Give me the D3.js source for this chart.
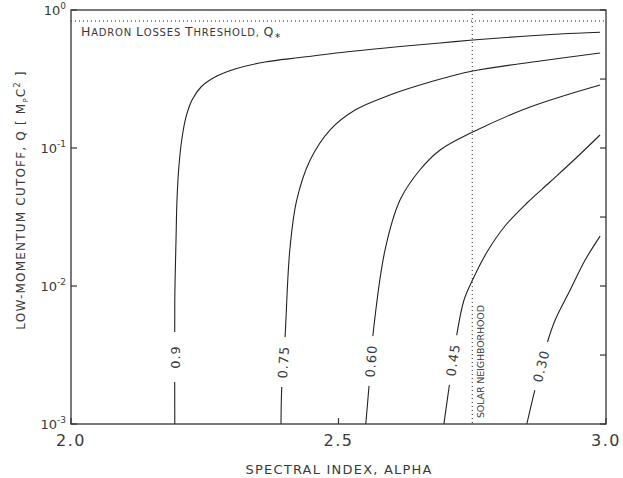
<!DOCTYPE html>
<html><head><meta charset="utf-8">
<script src="https://cdn.jsdelivr.net/npm/d3@7"></script>
<style>
html,body{margin:0;padding:0;background:#fff;}
svg{display:block;}
text{font-family:"DejaVu Sans","Liberation Sans",sans-serif;fill:#3a3a3a;}
</style></head>
<body>
<svg id="chart" width="623" height="478"></svg>
<script>
// ---- data ----
const xDomain = [2.0, 3.0];
const yDomain = [1e-3, 1];
const xTicks = [2.0, 2.5, 3.0];
const xTickLabels = ["2.0", "2.5", "3.0"];
const yTicks = [1e-3, 1e-2, 1e-1, 1];
const yTickExponents = ["-3", "-2", "-1", "0"];
const yMinorTicksRight = [0.00316, 0.0316, 0.316];

const contourNames = ["0.9", "0.75", "0.60", "0.45", "0.30"];
const c090 = [[2.194,0.0010],[2.194,0.00792],[2.1963,0.02153],[2.1981,0.0420],[2.2019,0.0753],[2.2075,0.1181],[2.2150,0.1678],[2.2262,0.2228],[2.2430,0.2767],[2.2692,0.3268],[2.3065,0.3735],[2.3626,0.4198],[2.4280,0.4526],[2.5215,0.5003],[2.6150,0.5438],[2.6897,0.5765],[2.7514,0.6063],[2.8393,0.6427],[2.9140,0.6698],[2.9888,0.6893]];
const c075 = [[2.3925,0.0010],[2.394,0.001884],[2.400,0.004198],[2.409,0.01824],[2.422,0.0420],[2.447,0.0818],[2.484,0.1349],[2.531,0.1884],[2.596,0.2421],[2.671,0.3006],[2.751,0.3614],[2.877,0.4266],[2.989,0.4875]];
const c060 = [[2.551,0.0010],[2.557,0.001884],[2.564,0.004266],[2.587,0.01824],[2.615,0.0420],[2.652,0.0693],[2.690,0.0968],[2.751,0.1306],[2.858,0.1982],[2.989,0.2864]];
const c045 = [[2.697,0.0010],[2.707,0.001884],[2.721,0.004416],[2.7346,0.00792],[2.7514,0.01124],[2.7776,0.01762],[2.8112,0.02721],[2.8523,0.03994],[2.8953,0.05671],[2.9421,0.08323],[2.9888,0.1242]];
const c030 = [[2.852,0.0010],[2.867,0.001762],[2.890,0.003864],[2.905,0.005675],[2.933,0.00935],[2.961,0.01542],[2.989,0.0230]];
const contours = [c090, c075, c060, c045, c030];
const labelAlpha = [2.1944, 2.397, 2.561, 2.714, 2.879];
const labelQ = [0.00306, 0.00281, 0.00286, 0.00291, 0.00263];

const thresholdQ = 0.832;
const solarAlpha = 2.75;

// ---- layout ----
const svg = d3.select("#chart");
const m = {l:71, r:606, t:10, b:424};
const x = d3.scaleLinear().domain(xDomain).range([m.l, m.r]);
const y = d3.scaleLog().domain(yDomain).range([m.b, m.t]);
const ink = "#222";

// reference lines
svg.append("line").attr("x1", x(2.0)).attr("x2", x(3.0)).attr("y1", y(thresholdQ)).attr("y2", y(thresholdQ))
  .attr("stroke", ink).attr("stroke-width", 1).attr("stroke-dasharray", "1,3");
svg.append("line").attr("x1", x(solarAlpha)).attr("x2", x(solarAlpha)).attr("y1", y(1)).attr("y2", y(1e-3))
  .attr("stroke", ink).attr("stroke-width", 1).attr("stroke-dasharray", "1,3");

// contour lines
const line = d3.line().x(d => x(d[0])).y(d => y(d[1])).curve(d3.curveCatmullRom.alpha(0.5));
svg.append("g").selectAll("path").data(contours).join("path")
  .attr("d", line).attr("fill", "none").attr("stroke", ink).attr("stroke-width", 1.1);

// contour labels
contours.forEach((c, i) => {
  const lx = x(labelAlpha[i]), ly = y(labelQ[i]);
  let k = 0;
  while (k < c.length - 2 && c[k+1][1] < labelQ[i]) k++;
  const dx = x(c[k+1][0]) - x(c[k][0]), dy = y(c[k+1][1]) - y(c[k][1]);
  const ang = Math.atan2(dy, dx) * 180 / Math.PI;
  const g = svg.append("g").attr("transform", `translate(${lx},${ly}) rotate(${ang})`);
  g.append("rect").attr("x", -25).attr("y", -8).attr("width", 50).attr("height", 16).attr("fill", "#fff");
  g.append("text").attr("text-anchor", "middle").attr("dy", "0.36em")
    .attr("font-size", 13).attr("letter-spacing", 1).text(contourNames[i]);
});

// frame
svg.append("rect").attr("x", m.l).attr("y", m.t).attr("width", m.r - m.l).attr("height", m.b - m.t)
  .attr("fill", "none").attr("stroke", "#333").attr("stroke-width", 1.3);

// x ticks
svg.append("g").selectAll("line").data(xTicks).join("line")
  .attr("x1", d => x(d)).attr("x2", d => x(d)).attr("y1", m.b).attr("y2", m.b - 6)
  .attr("stroke", "#333").attr("stroke-width", 1.2);
svg.append("g").selectAll("text").data(xTicks).join("text")
  .attr("x", d => x(d)).attr("y", 446).attr("text-anchor", "middle")
  .attr("font-size", 16).attr("letter-spacing", 1.5).text((d, i) => xTickLabels[i]);

// y ticks
svg.append("g").selectAll("line").data(yTicks).join("line")
  .attr("x1", m.l).attr("x2", m.l + 6).attr("y1", d => y(d)).attr("y2", d => y(d))
  .attr("stroke", "#333").attr("stroke-width", 1.2);
svg.append("g").selectAll("line").data(yTicks.concat(yMinorTicksRight)).join("line")
  .attr("x1", m.r).attr("x2", m.r - 6).attr("y1", d => y(d)).attr("y2", d => y(d))
  .attr("stroke", "#333").attr("stroke-width", 1.2);
const yl = svg.append("g").selectAll("text").data(yTicks).join("text")
  .attr("x", 66).attr("y", d => y(d) + 5).attr("text-anchor", "end").attr("font-size", 13);
yl.append("tspan").text("10");
yl.append("tspan").attr("font-size", 9).attr("dy", -6).text((d, i) => yTickExponents[i]);

// x axis title
svg.append("text").attr("x", (m.l + m.r) / 2).attr("y", 474).attr("text-anchor", "middle")
  .attr("font-size", 13).attr("textLength", 186).attr("lengthAdjust", "spacing").text("SPECTRAL INDEX, ALPHA");

// y axis title
const yt = svg.append("text").attr("transform", `translate(25,200) rotate(-90)`)
  .attr("text-anchor", "middle").attr("font-size", 12).attr("letter-spacing", 1.2);
yt.append("tspan").text("LOW-MOMENTUM CUTOFF, Q [ M");
yt.append("tspan").attr("font-size", 7).attr("dy", 3).text("P");
yt.append("tspan").attr("dy", -3).text("C");
yt.append("tspan").attr("font-size", 8).attr("dy", -5).text("2");
yt.append("tspan").attr("dy", 5).text(" ]");

// threshold title (small caps)
const tt = svg.append("text").attr("x", 81).attr("y", 36).attr("font-size", 10).attr("letter-spacing", 0.8);
[["H","ADRON "],["L","OSSES "],["T","HRESHOLD, "],["Q",""]].forEach(p => {
  tt.append("tspan").attr("font-size", 12.5).text(p[0]);
  if (p[1]) tt.append("tspan").text(p[1]);
});
tt.append("tspan").attr("font-size", 8).attr("dy", 2).text("∗");

// solar neighborhood label
svg.append("text").attr("transform", `translate(${x(solarAlpha) + 12},418) rotate(-90)`)
  .attr("font-size", 9.5).attr("textLength", 113).attr("lengthAdjust", "spacing").text("SOLAR NEIGHBORHOOD");
</script>
</body></html>
